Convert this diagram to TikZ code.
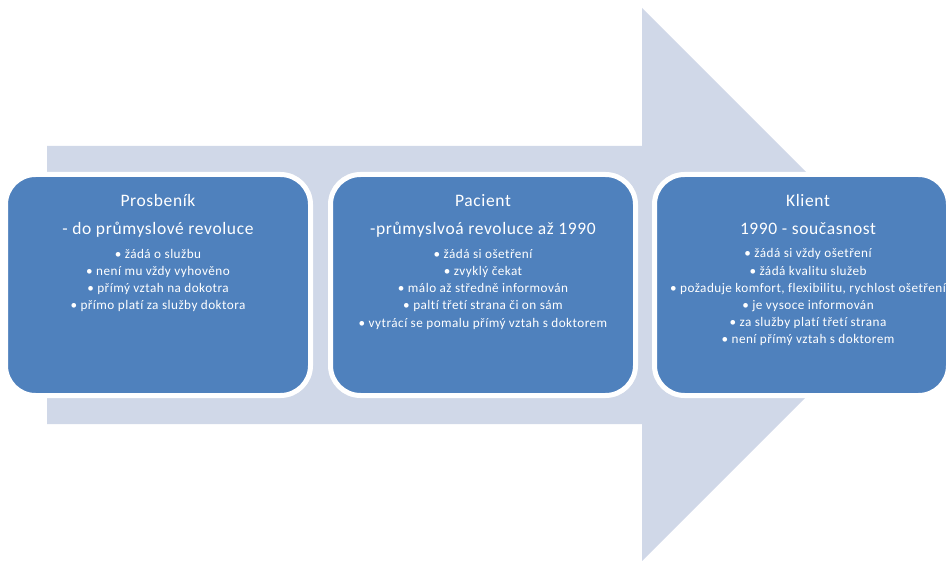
\documentclass[tikz,border=0pt]{standalone}
\usepackage{fontspec}
\setmainfont{Carlito}
\newfontfamily\stagefont[LetterSpace=3.5,Ligatures={NoCommon}]{Carlito}
\definecolor{stageblue}{HTML}{4F81BD}
\definecolor{flowgrey}{HTML}{D0D8E8}
\tikzset{
  flowarrow/.style={fill=flowgrey, draw=none},
  stagebox/.style={rectangle, rounded corners=30pt, fill=stageblue, draw=white,
    line width=5pt, inner sep=0pt, minimum height=221pt},
  % base anchor sits on the last line of a multi-line node
  stagetitle/.style={anchor=base, align=center, inner sep=0pt, text=white,
    font=\stagefont\fontsize{17.5}{28}\selectfont},
  stagelist/.style={anchor=base, align=center, inner sep=0pt, text=white,
    font=\stagefont\fontsize{13.2}{17.2}\selectfont},
}
\begin{document}
\begin{tikzpicture}[x=1pt,y=-1pt]
\useasboundingbox (0,0) rectangle (948,561);

% broad arrow running behind the three stages
\fill[flowarrow] (47,146) -- (642,146) -- (642,8) -- (918.5,284.5)
  -- (642,561) -- (642,424) -- (47,424) -- cycle;

% stage boxes
\node[stagebox, minimum width=305pt] (prosbenik) at (158,285) {};
\node[stagebox, minimum width=305pt] (pacient) at (483,285) {};
\node[stagebox, minimum width=294pt] (klient) at (801.5,285) {};

% Prosbeník
\node[stagetitle] (prosbenikT) at (158,235) {Prosbeník\\- do průmyslové revoluce};
\node[stagelist] (prosbenikL) at (158,310) {%
  • žádá o službu\\
  • není mu vždy vyhověno\\
  • přímý vztah na dokotra\\
  • přímo platí za služby doktora};

% Pacient
\node[stagetitle] (pacientT) at (483,235) {Pacient\\-průmyslvoá revoluce až 1990};
\node[stagelist] (pacientL) at (483,327) {%
  • žádá si ošetření\\
  • zvyklý čekat\\
  • málo až středně informován\\
  • paltí třetí strana či on sám\\
  • vytrácí se pomalu přímý vztah s doktorem};

% Klient
\node[stagetitle] (klientT) at (808,235) {Klient\\1990 - současnost};
\node[stagelist] (klientL) at (808,344) {%
  • žádá si vždy ošetření\\
  • žádá kvalitu služeb\\
  • požaduje komfort,  flexibilitu, rychlost ošetření\\
  • je vysoce informován\\
  • za služby platí třetí strana\\
  • není přímý vztah s doktorem};
\end{tikzpicture}
\end{document}
